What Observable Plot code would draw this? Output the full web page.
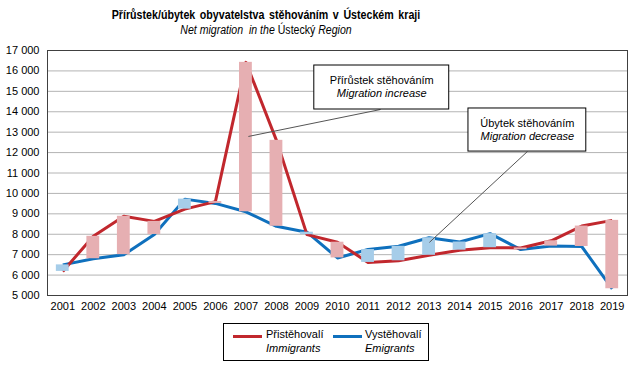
<!DOCTYPE html>
<html><head><meta charset="utf-8">
<script src="https://cdn.jsdelivr.net/npm/d3@7"></script>
<script src="https://cdn.jsdelivr.net/npm/@observablehq/plot@0.6"></script>
<style>
body{margin:0;background:#fff;font-family:"Liberation Sans",Arial,sans-serif;color:#000}
#wrap{position:relative;width:641px;height:369px;overflow:hidden;background:#fff}
#title{position:absolute;left:266px;top:7px;transform:translateX(-50%) scaleX(0.82);white-space:nowrap;font-weight:bold;font-size:13px;font-family:"Liberation Sans",Arial,sans-serif;word-spacing:2px}
#subtitle{position:absolute;left:266px;top:23px;transform:translateX(-50%) scaleX(0.88);white-space:nowrap;font-size:12px;font-family:"Liberation Sans",Arial,sans-serif}
#chart{position:absolute;left:0;top:40px}
#legend{position:absolute;left:223px;top:323px;width:204px;height:36px;border:1px solid #000;font-size:11px}
.sw{position:absolute;height:3px;top:11px;width:29px}
.lt{position:absolute;white-space:nowrap;line-height:14px}
</style></head><body>
<div id="wrap">
<div id="title">Přírůstek/úbytek obyvatelstva stěhováním v Ústeckém kraji</div>
<div id="subtitle"><i>Net migration&nbsp; in the</i> Ústecký <i>Region</i></div>
<div id="chart"></div>
<div id="legend">
  <div class="sw" style="left:9px;background:#c1272d"></div>
  <div class="lt" style="left:42px;top:3px">Přistěhovalí<br><i>Immigrants</i></div>
  <div class="sw" style="left:109px;background:#0f70bd"></div>
  <div class="lt" style="left:141px;top:3px">Vystěhovalí<br><i>Emigrants</i></div>
</div>
</div>
<script>
const years = [2001,2002,2003,2004,2005,2006,2007,2008,2009,2010,2011,2012,2013,2014,2015,2016,2017,2018,2019];
const immigrants = [6180,7900,8880,8630,9230,9600,16420,12600,7980,7610,6620,6700,6970,7220,7340,7330,7680,8400,8680];
const emigrants  = [6500,6800,7000,7990,9720,9510,9100,8390,8100,6840,7250,7410,7830,7620,8030,7250,7420,7400,5330];
const yTicks = [5000,6000,7000,8000,9000,10000,11000,12000,13000,14000,15000,16000,17000];

// annotation callouts (data coordinates)
const noteTitles = ["Přírůstek stěhováním","Úbytek stěhováním"];
const noteSubs = ["Migration increase","Migration decrease"];
const noteBoxes = [{x1:2009.24,x2:2013.66,y1:14110,y2:16265},{x1:2014.29,x2:2018.15,y1:12050,y2:14160}];
const noteText = [{x:2011.45,y1:15530,y2:14900},{x:2016.22,y1:13420,y2:12790}];
const noteLeaders = [{x1:2011.41,y1:14110,x2:2007.08,y2:12790},{x1:2016.22,y1:12050,x2:2013.01,y2:7600}];

const data = years.map((year,i)=>({year, imm:immigrants[i], emi:emigrants[i]}));
const notes = noteTitles.map((t,i)=>({t, s:noteSubs[i], ...noteBoxes[i], tx:noteText[i].x, ty1:noteText[i].y1, ty2:noteText[i].y2}));
const fmt = d => d3.format(",")(d).replace(/,/g," ");

const chart = Plot.plot({
  width:641, height:278,
  marginTop:10, marginLeft:47, marginRight:14, marginBottom:23,
  style:{fontFamily:"'Liberation Sans',Arial,sans-serif", fontSize:"11px", color:"#000", background:"#fff", overflow:"visible"},
  x:{domain:[2000.5,2019.5], ticks:years, tickFormat:d=>String(d), tickSize:0, tickPadding:7, label:null},
  y:{domain:[5000,17000], ticks:yTicks, tickFormat:fmt, tickSize:0, tickPadding:8, label:null},
  marks:[
    Plot.gridY(yTicks, {stroke:"#b4b4b4", strokeOpacity:1, strokeWidth:1}),
    Plot.line(data,{x:"year", y:"emi", stroke:"#0f70bd", strokeWidth:3, strokeLinejoin:"round", strokeLinecap:"butt"}),
    Plot.line(data,{x:"year", y:"imm", stroke:"#c1272d", strokeWidth:3, strokeLinejoin:"round", strokeLinecap:"butt"}),
    Plot.rect(data,{x1:d=>d.year-0.21, x2:d=>d.year+0.21, y1:"emi", y2:"imm", fill:d=>d.imm>=d.emi?"#e6afb2":"#a6cde9"}),
    Plot.frame({stroke:"#404040", strokeWidth:1}),
    Plot.link(noteLeaders,{x1:"x1",y1:"y1",x2:"x2",y2:"y2", stroke:"#555", strokeWidth:1}),
    Plot.rect(notes,{x1:"x1",x2:"x2",y1:"y1",y2:"y2", fill:"#fff", stroke:"#000", strokeWidth:1}),
    Plot.text(notes,{x:"tx", y:"ty1", text:"t", fontSize:11, fill:"#000"}),
    Plot.text(notes,{x:"tx", y:"ty2", text:"s", fontSize:11, fontStyle:"italic", fill:"#000"})
  ]
});
document.getElementById("chart").appendChild(chart);
</script>
</body></html>
